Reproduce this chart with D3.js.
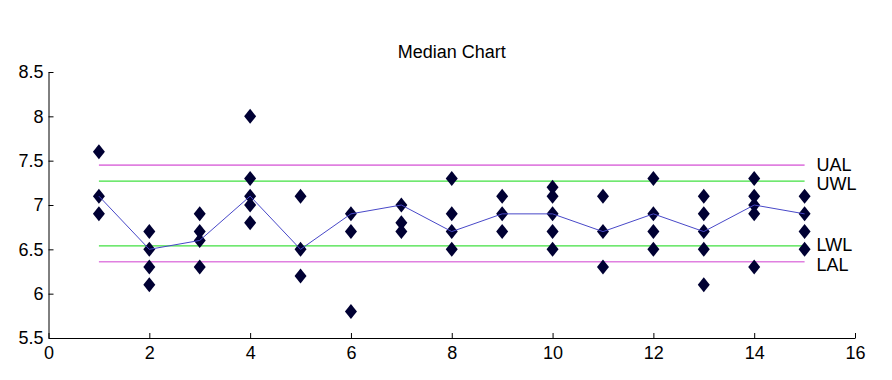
<!DOCTYPE html>
<html>
<head>
<meta charset="utf-8">
<script src="https://cdn.jsdelivr.net/npm/d3@7"></script>
<style>
	body { margin: 0; background: #fff; }
	text { font-family: "Liberation Sans", Arial, sans-serif; }
</style>
</head>
<body>
<svg width="892" height="380"></svg>
<script>
// sample number of each subgroup
var samples = [1, 2, 3, 4, 5, 6, 7, 8, 9, 10, 11, 12, 13, 14, 15];

var observations = [
	[7.6, 7.1, 6.9],
	[6.7, 6.5, 6.3, 6.1],
	[6.9, 6.7, 6.6, 6.3],
	[8.0, 7.3, 7.1, 7.0, 6.8],
	[7.1, 6.5, 6.2],
	[6.9, 6.7, 5.8],
	[7.0, 6.8, 6.7],
	[7.3, 6.9, 6.7, 6.5],
	[7.1, 6.9, 6.7],
	[7.2, 7.1, 6.9, 6.7, 6.5],
	[7.1, 6.7, 6.3],
	[7.3, 6.9, 6.7, 6.5],
	[7.1, 6.9, 6.7, 6.5, 6.1],
	[7.3, 7.1, 7.0, 6.9, 6.3],
	[7.1, 6.9, 6.7, 6.5]
];

// subgroup medians
var medians = [7.1, 6.5, 6.6, 7.1, 6.5, 6.9, 7.0, 6.7, 6.9, 6.9, 6.7, 6.9, 6.7, 7.0, 6.9];

// action and warning limits
var limitNames = ["UAL", "UWL", "LWL", "LAL"];
var limitValues = [7.45, 7.27, 6.54, 6.36];

var xTicks = [0, 2, 4, 6, 8, 10, 12, 14, 16];
var yTicks = [5.5, 6, 6.5, 7, 7.5, 8, 8.5];

var svg = d3.select("svg");

var x = d3.scaleLinear().domain([0, 16]).range([48.5, 855]);
var y = d3.scaleLinear().domain([5.5, 8.5]).range([338, 72]);

// title
svg.append("text")
	.attr("x", (x.range()[0] + x.range()[1]) / 2)
	.attr("y", 58)
	.attr("text-anchor", "middle")
	.attr("font-size", 18)
	.text("Median Chart");

// axes, matlab style ticks pointing inward
var xAxis = svg.append("g")
	.attr("transform", "translate(0," + y(5.5) + ")")
	.call(d3.axisBottom(x).tickValues(xTicks).tickFormat(d3.format("d")).tickSizeInner(-5).tickSizeOuter(0).tickPadding(8));

var yAxis = svg.append("g")
	.attr("transform", "translate(" + x(0) + ",0)")
	.call(d3.axisLeft(y).tickValues(yTicks).tickFormat(function(d) { return d; }).tickSizeInner(-5).tickSizeOuter(0).tickPadding(5));

[xAxis, yAxis].forEach(function(a) {
	a.selectAll("text").attr("font-size", 18).attr("fill", "#000");
	a.selectAll("line").attr("stroke", "#000");
	a.select(".domain").attr("stroke", "#000");
	a.attr("font-family", null);
});

// limit lines
var limitColors = ["#e080e0", "#40e040", "#40e040", "#e080e0"];
var limits = svg.append("g").selectAll("g")
	.data(limitNames)
	.enter().append("g");

limits.append("line")
	.attr("x1", x(samples[0]))
	.attr("x2", x(samples[samples.length - 1]))
	.attr("y1", function(d, i) { return y(limitValues[i]); })
	.attr("y2", function(d, i) { return y(limitValues[i]); })
	.attr("stroke", function(d, i) { return limitColors[i]; })
	.attr("stroke-width", function(d, i) { return (i == 0 || i == 3) ? 1.6 : 1.2; });

limits.append("text")
	.attr("x", x(samples[samples.length - 1]) + 12)
	.attr("y", function(d, i) { return y(limitValues[i]); })
	.attr("dy", function(d, i) { return (i == 0 || i == 2) ? "0.3em" : "0.5em"; })
	.attr("font-size", 18)
	.text(function(d) { return d; });

// diamonds for every observation
var points = [];
observations.forEach(function(obs, i) {
	obs.forEach(function(v) { points.push({ s: samples[i], v: v }); });
});

svg.append("g").selectAll("path")
	.data(points)
	.enter().append("path")
	.attr("transform", function(d) { return "translate(" + x(d.s) + "," + y(d.v) + ")"; })
	.attr("d", "M0,-7.5L6,0L0,7.5L-6,0Z")
	.attr("fill", "#000033");

// median line
var line = d3.line()
	.x(function(d, i) { return x(samples[i]); })
	.y(function(d) { return y(d); });

svg.append("path")
	.datum(medians)
	.attr("d", line)
	.attr("fill", "none")
	.attr("stroke", "#4848c8")
	.attr("stroke-width", 1);
</script>
</body>
</html>
